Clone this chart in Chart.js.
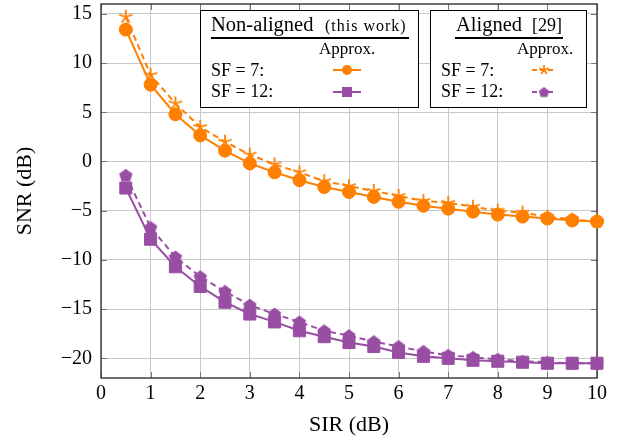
<!DOCTYPE html>
<html>
<head>
<meta charset="utf-8">
<script src="https://cdn.jsdelivr.net/npm/chart.js@4/dist/chart.umd.min.js"></script>
<style>
  html, body { margin: 0; padding: 0; background: #fff; }
</style>
</head>
<body>
<canvas id="snrChart" width="626" height="443"></canvas>
<script>
// data
const sir = [0.5, 1, 1.5, 2, 2.5, 3, 3.5, 4, 4.5, 5, 5.5, 6, 6.5, 7, 7.5, 8, 8.5, 9, 9.5, 10];
const sf7NonAligned  = [13.4, 7.8, 4.8, 2.65, 1.1, -0.2, -1.1, -1.9, -2.6, -3.1, -3.6, -4.1, -4.5, -4.8, -5.1, -5.4, -5.6, -5.8, -6.0, -6.1];
const sf7Aligned     = [14.7, 8.8, 5.9, 3.5, 2.0, 0.7, -0.3, -1.1, -2.0, -2.5, -3.0, -3.5, -4.0, -4.2, -4.6, -5.0, -5.2, -5.6, -5.9, -6.1];
const sf12NonAligned = [-2.7, -7.9, -10.7, -12.7, -14.3, -15.5, -16.3, -17.2, -17.8, -18.4, -18.8, -19.4, -19.8, -20.0, -20.2, -20.3, -20.4, -20.5, -20.5, -20.5];
const sf12Aligned    = [-1.4, -6.7, -9.7, -11.7, -13.2, -14.6, -15.5, -16.3, -17.2, -17.7, -18.3, -18.8, -19.3, -19.7, -19.9, -20.1, -20.3, -20.4, -20.5, -20.5];
const yTicks = [-20, -15, -10, -5, 0, 5, 10, 15];

const ORANGE = '#ff7f00';
const PURPLE = '#984ea3';
const SERIF = '"Liberation Serif", "DejaVu Serif", serif';

// pgfplots-like markers as little canvases
function makeStar(color, r) {
    const s = Math.ceil(2 * r + 4);
    const c = document.createElement('canvas');
    c.width = s; c.height = s;
    const g = c.getContext('2d');
    g.strokeStyle = color;
    g.lineWidth = 1.8;
    g.beginPath();
    for (let k = 0; k < 5; k++) {
        const a = -Math.PI / 2 + k * 2 * Math.PI / 5;
        g.moveTo(s / 2, s / 2);
        g.lineTo(s / 2 + r * Math.cos(a), s / 2 + r * Math.sin(a));
    }
    g.stroke();
    return c;
}

function makePentagon(color, r) {
    const s = Math.ceil(2 * r + 4);
    const c = document.createElement('canvas');
    c.width = s; c.height = s;
    const g = c.getContext('2d');
    g.fillStyle = color;
    g.beginPath();
    for (let k = 0; k < 5; k++) {
        const a = -Math.PI / 2 + k * 2 * Math.PI / 5;
        const px = s / 2 + r * Math.cos(a), py = s / 2 + 0.6 + r * Math.sin(a);
        if (k === 0) g.moveTo(px, py); else g.lineTo(px, py);
    }
    g.closePath();
    g.fill();
    return c;
}

const starBig = makeStar(ORANGE, 7);
const pentBig = makePentagon(PURPLE, 7);
const starSmall = makeStar(ORANGE, 5);
const pentSmall = makePentagon(PURPLE, 5.5);

function pts(ys) {
    return sir.map((x, i) => ({ x: x, y: ys[i] }));
}

// frame + inward ticks (drawn under the data)
const framePlugin = {
    id: 'frame',
    beforeDatasetsDraw(chart) {
        const { ctx, chartArea: a, scales } = chart;
        ctx.save();
        ctx.strokeStyle = '#777';
        ctx.lineWidth = 1;
        ctx.beginPath();
        for (let v = 0; v <= 10; v++) {
            const x = Math.round(scales.x.getPixelForValue(v)) + 0.5;
            ctx.moveTo(x, a.bottom); ctx.lineTo(x, a.bottom - 6);
            ctx.moveTo(x, a.top); ctx.lineTo(x, a.top + 6);
        }
        yTicks.forEach(v => {
            const y = Math.round(scales.y.getPixelForValue(v)) + 0.5;
            ctx.moveTo(a.left, y); ctx.lineTo(a.left + 6, y);
            ctx.moveTo(a.right, y); ctx.lineTo(a.right - 6, y);
        });
        ctx.stroke();
        ctx.strokeStyle = '#333';
        ctx.lineWidth = 1.4;
        ctx.strokeRect(a.left, a.top, a.right - a.left, a.bottom - a.top);
        ctx.restore();
    }
};

// the two legend boxes
function legendLine(ctx, x0, x1, y, color, dashed) {
    ctx.save();
    ctx.strokeStyle = color;
    ctx.lineWidth = 2;
    if (dashed) ctx.setLineDash([5, 3]);
    ctx.beginPath();
    ctx.moveTo(x0, y); ctx.lineTo(x1, y);
    ctx.stroke();
    ctx.restore();
}

const legendPlugin = {
    id: 'boxes',
    afterDraw(chart) {
        const ctx = chart.ctx;
        ctx.save();
        // box 1
        ctx.fillStyle = '#fff';
        ctx.fillRect(200, 10, 219, 98);
        ctx.strokeStyle = '#000';
        ctx.lineWidth = 1;
        ctx.strokeRect(200.5, 10.5, 218, 97);
        // box 2
        ctx.fillRect(430, 10, 157, 98);
        ctx.strokeRect(430.5, 10.5, 156, 97);

        ctx.fillStyle = '#000';
        ctx.textBaseline = 'alphabetic';
        ctx.textAlign = 'left';
        ctx.font = '20.5px ' + SERIF;
        ctx.fillText('Non-aligned', 211, 31);
        ctx.fillText('Aligned', 456, 31);
        ctx.font = '16px ' + SERIF;
        ctx.letterSpacing = '1px';
        ctx.fillText('(this work)', 325, 31);
        ctx.letterSpacing = '0px';
        ctx.font = '18px ' + SERIF;
        ctx.fillText('[29]', 532, 31);

        ctx.lineWidth = 2;
        ctx.beginPath();
        ctx.moveTo(211, 38); ctx.lineTo(409, 38);
        ctx.moveTo(455, 38); ctx.lineTo(563, 38);
        ctx.stroke();

        ctx.font = '17px ' + SERIF;
        ctx.fillText('Approx.', 319, 54);
        ctx.fillText('Approx.', 517, 54);
        ctx.font = '18px ' + SERIF;
        ctx.fillText('SF = 7:', 211, 76);
        ctx.fillText('SF = 12:', 211, 97);
        ctx.fillText('SF = 7:', 441, 76);
        ctx.fillText('SF = 12:', 441, 97);

        // non-aligned markers
        legendLine(ctx, 333, 361, 70, ORANGE, false);
        ctx.fillStyle = ORANGE;
        ctx.beginPath(); ctx.arc(347, 70, 5, 0, 2 * Math.PI); ctx.fill();
        legendLine(ctx, 333, 361, 92, PURPLE, false);
        ctx.fillStyle = PURPLE;
        ctx.fillRect(342, 87, 10, 10);

        // aligned markers
        legendLine(ctx, 532, 556, 70, ORANGE, true);
        ctx.drawImage(starSmall, 544 - starSmall.width / 2, 70 - starSmall.height / 2);
        legendLine(ctx, 532, 556, 92, PURPLE, true);
        ctx.drawImage(pentSmall, 544 - pentSmall.width / 2, 92 - pentSmall.height / 2);
        ctx.restore();
    }
};

const tickFont = { family: SERIF, size: 20 };
const titleFont = { family: SERIF, size: 22 };

new Chart(document.getElementById('snrChart').getContext('2d'), {
    type: 'line',
    data: {
        datasets: [
            { label: 'SF=7 non-aligned', data: pts(sf7NonAligned), borderColor: ORANGE, backgroundColor: ORANGE,
              borderWidth: 2, pointStyle: 'circle', pointRadius: 6.5, pointBorderWidth: 1 },
            { label: 'SF=12 non-aligned', data: pts(sf12NonAligned), borderColor: PURPLE, backgroundColor: PURPLE,
              borderWidth: 2, pointStyle: 'rect', pointRadius: 8.5, pointBorderWidth: 1 },
            { label: 'SF=7 aligned', data: pts(sf7Aligned), borderColor: ORANGE, backgroundColor: ORANGE,
              borderWidth: 2, borderDash: [6, 4], pointStyle: starBig, pointRadius: 7 },
            { label: 'SF=12 aligned', data: pts(sf12Aligned), borderColor: PURPLE, backgroundColor: PURPLE,
              borderWidth: 2, borderDash: [6, 4], pointStyle: pentBig, pointRadius: 7 }
        ]
    },
    options: {
        responsive: false,
        animation: false,
        devicePixelRatio: 1,
        clip: false,
        layout: { autoPadding: false, padding: { top: 4, right: 29, left: 0, bottom: 0 } },
        plugins: { legend: { display: false }, tooltip: { enabled: false } },
        elements: { line: { tension: 0 } },
        scales: {
            x: {
                type: 'linear', min: 0, max: 10,
                afterFit: s => { s.height = 65; s.paddingLeft = 0; s.paddingRight = 0; },
                grid: { color: '#c8c8c8', lineWidth: 1, drawTicks: false },
                border: { display: false },
                ticks: { stepSize: 1, padding: 4, color: '#000', font: tickFont, maxRotation: 0 },
                title: { display: true, text: 'SIR (dB)', color: '#000', font: titleFont, padding: { top: 0, bottom: 5 } }
            },
            y: {
                type: 'linear', min: -22, max: 16,
                afterFit: s => { s.width = 101; s.paddingTop = 0; s.paddingBottom = 0; },
                afterBuildTicks: s => { s.ticks = yTicks.map(v => ({ value: v })); },
                grid: { color: '#c8c8c8', lineWidth: 1, drawTicks: false },
                border: { display: false },
                ticks: {
                    padding: 9, color: '#000', font: tickFont,
                    callback: v => (v < 0 ? '\u2212' + Math.abs(v) : String(v))
                },
                title: { display: true, text: 'SNR (dB)', color: '#000', font: titleFont, padding: { top: 12, bottom: 0 } }
            }
        }
    },
    plugins: [framePlugin, legendPlugin]
});
</script>
</body>
</html>
